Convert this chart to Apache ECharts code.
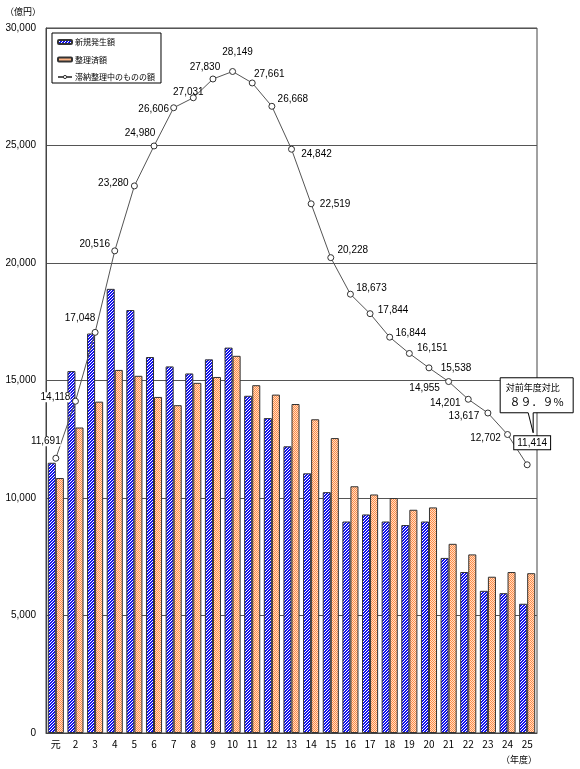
<!DOCTYPE html>
<html>
<head>
<meta charset="utf-8">
<script src="https://cdn.jsdelivr.net/npm/echarts@6/dist/echarts.min.js"></script>
<style>
html,body{margin:0;padding:0;background:#fff;}
#chart{width:580px;height:769px;}
</style>
</head>
<body>
<div id="chart"></div>
<script>
// ---- data ----
const categories = ['元','2','3','4','5','6','7','8','9','10','11','12','13','14','15','16','17','18','19','20','21','22','23','24','25'];
const newAmounts = [11500,15400,17000,18900,18000,16000,15600,15300,15900,16400,14350,13400,12200,11050,10250,9000,9300,9000,8850,9000,7450,6850,6050,5950,5500];
const settledAmounts = [10850,13000,14100,15450,15200,14300,13950,14900,15150,16050,14800,14400,14000,13350,12550,10500,10150,10000,9500,9600,8050,7600,6650,6850,6800];
const outstanding = [11691,14118,17048,20516,23280,24980,26606,27031,27830,28149,27661,26668,24842,22519,20228,18673,17844,16844,16151,15538,14955,14201,13617,12702,11414];
const seriesNames = ['新規発生額','整理済額','滞納整理中のものの額'];
const yTicks = {min:0, max:30000, interval:5000};
const calloutLines = ['対前年度対比','８９．９%'];

// ---- styling (label offsets relative to points) ----
const labelOffsets = [[-10,-17],[-20,-4],[-15,-14],[-20,-7],[-21,-3],[-14,-13],[-20,1],[-5,-6],[-8,-12],[5,-19],[17,-9],[21,-7],[25,5],[24,0],[22,-7],[21,-6],[23,-3],[21,-4],[23,-5],[27,0],[-24,7],[-23,4],[-24,3],[-22,4],[5,-22]];

const numFont = "'Liberation Sans','Arial',sans-serif";
const jpFont = "'Noto Sans CJK JP',sans-serif";

function makePattern(w, h, fn){
  const c = document.createElement('canvas');
  c.width = w; c.height = h;
  const ctx = c.getContext('2d');
  for (let y=0;y<h;y++) for (let x=0;x<w;x++){
    ctx.fillStyle = fn(x,y);
    ctx.fillRect(x,y,1,1);
  }
  return c;
}
const bluePattern = makePattern(3,3,(x,y)=> ((x+y)%3<2) ? '#1010f0' : '#ffffff');
const orangePattern = makePattern(2,2,(x,y)=> ((x+y)%2===0) ? '#ff8c46' : '#ffdcc4');

function fmt(v){ return String(v).replace(/\B(?=(\d{3})+(?!\d))/g, ','); }

const chart = echarts.init(document.getElementById('chart'), null, {renderer:'canvas'});

const lineData = outstanding.map((v,i)=>{
  const o = labelOffsets[i];
  const item = {value:v, label:{offset:o}};
  if (i === 1 || i === 0) item.label.backgroundColor = '#fff';
  if (i === outstanding.length-1){
    item.label.backgroundColor = '#fff';
    item.label.borderColor = '#000';
    item.label.borderWidth = 1;
    item.label.padding = [2,3,1,3];
  }
  return item;
});

chart.setOption({
  animation:false,
  backgroundColor:'#fff',
  grid:{left:46, right:43, top:28, bottom:36, show:true, borderColor:'#444', borderWidth:1, backgroundColor:'transparent'},
  legend:{
    orient:'vertical', left:52, top:33,
    padding:[4,6,1,5],
    borderColor:'#000', borderWidth:1, backgroundColor:'#fff',
    itemWidth:14, itemHeight:4, itemGap:7.5,
    textStyle:{fontFamily:jpFont, fontSize:8, color:'#000', lineHeight:10, padding:[0,0,0,-2]},
    data:[
      {name:seriesNames[0]},
      {name:seriesNames[1]},
      {name:seriesNames[2], itemStyle:{color:'#fff', borderColor:'#333', borderWidth:1}}
    ]
  },
  xAxis:{
    type:'category', data:categories,
    axisLine:{show:true, lineStyle:{color:'#444', width:1}},
    axisTick:{show:false},
    axisLabel:{interval:0, color:'#000', fontFamily:"'Noto Sans CJK JP',"+numFont, fontSize:10, margin:6},
    name:'（年度）', nameLocation:'end', nameGap:0,
    nameTextStyle:{fontFamily:jpFont, fontSize:9, color:'#000', align:'right', verticalAlign:'top', padding:[22,0,0,0]}
  },
  yAxis:{
    type:'value', min:yTicks.min, max:yTicks.max, interval:yTicks.interval,
    axisLine:{show:true, lineStyle:{color:'#444', width:1}},
    axisTick:{show:false},
    axisLabel:{color:'#000', fontFamily:numFont, fontSize:10, margin:10, formatter:v=>fmt(v)},
    splitLine:{show:true, lineStyle:{color:'#555', width:1}},
    name:'（億円）', nameLocation:'end', nameGap:12,
    nameTextStyle:{fontFamily:jpFont, fontSize:9, color:'#000', align:'right', padding:[0,5,0,0]}
  },
  series:[
    {name:seriesNames[0], type:'bar', data:newAmounts, barGap:'0%', barCategoryGap:'18%',
     itemStyle:{color:{image:bluePattern, repeat:'repeat'}, borderColor:'#333', borderWidth:1}},
    {name:seriesNames[1], type:'bar', data:settledAmounts,
     itemStyle:{color:{image:orangePattern, repeat:'repeat'}, borderColor:'#333', borderWidth:1}},
    {name:seriesNames[2], type:'line', data:lineData, z:5,
     symbol:'circle', symbolSize:6,
     lineStyle:{color:'#555', width:1},
     itemStyle:{color:'#fff', borderColor:'#333', borderWidth:1},
     label:{show:true, position:'inside', fontFamily:numFont, fontSize:10, color:'#000', formatter:p=>fmt(p.value)}}
  ]
});

// callout box anchored to the last point of the outstanding series
const last = outstanding.length-1;
const p = chart.convertToPixel({seriesIndex:2}, [last, outstanding[last]]);
const bx = p[0]-27, by = p[1]-87, bw = 73, bh = 35;
const tipX = p[0]+6, tipY = p[1]-32;
chart.setOption({
  graphic:[
    {type:'polygon', z:10, shape:{points:[[bx,by],[bx+bw,by],[bx+bw,by+bh],[tipX,by+bh],[tipX,tipY],[tipX-5,by+bh],[bx,by+bh]]},
     style:{fill:'#fff', stroke:'#000', lineWidth:1}},
    {type:'text', z:11, x:bx+bw/2-4, y:by+10, style:{text:calloutLines[0], font:"9px 'Noto Sans CJK JP'", fill:'#000', textAlign:'center', textVerticalAlign:'middle'}},
    {type:'text', z:11, x:bx+bw/2, y:by+24, style:{text:calloutLines[1], font:"11px 'Noto Sans CJK JP'", fill:'#000', textAlign:'center', textVerticalAlign:'middle'}}
  ]
});
</script>
</body>
</html>
